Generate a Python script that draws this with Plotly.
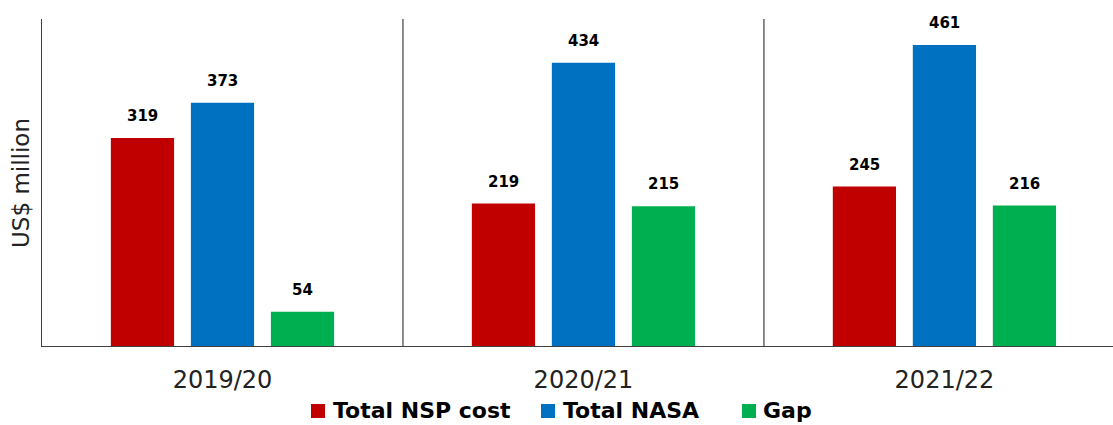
import plotly.graph_objects as go

years = ["2019/20", "2020/21", "2021/22"]
nsp_cost = [319, 219, 245]
nasa_total = [373, 434, 461]
gap = [54, 215, 216]

series_names = ["Total NSP cost", "Total NASA", "Gap"]
series_values = [nsp_cost, nasa_total, gap]
series_colors = ["#C00000", "#0070C0", "#00B050"]

FONT = "Century Gothic, URW Gothic, DejaVu Sans, sans-serif"
AXIS_COLOR = "#404040"

W, H = 1113, 425
M_L, M_R, M_T, M_B = 42, 0, 19, 78
PLOT_W = W - M_L - M_R
PLOT_H = H - M_T - M_B


def px_to_paper_x(px):
    return (px - M_L) / PLOT_W


def px_to_paper_y(py):
    return (H - M_B - py) / PLOT_H


fig = go.Figure()
bar_step = 80  # pixel distance between neighbouring bars in a group
for i, (name, values, color) in enumerate(zip(series_names, series_values, series_colors)):
    fig.add_trace(go.Bar(
        name=name, x=years, y=values,
        marker=dict(color=color, line=dict(width=0)),
        showlegend=False,
    ))
    # value labels above each bar
    for yr, v in zip(years, values):
        fig.add_annotation(
            x=yr, y=v, xref="x", yref="y", text=str(v), showarrow=False,
            xshift=(i - 1) * bar_step, yshift=11, yanchor="bottom",
            font=dict(family=FONT, size=15, color="#000000", weight="bold"),
        )

# vertical separators between year groups
for xpos in [0.5, 1.5]:
    fig.add_shape(type="line", xref="x", yref="paper", x0=xpos, x1=xpos,
                  y0=0, y1=1, line=dict(color=AXIS_COLOR, width=1.2))

# baseline along the category axis
fig.add_shape(type="line", xref="paper", yref="y", x0=0, x1=1, y0=0, y1=0,
              line=dict(color=AXIS_COLOR, width=2))

# legend row below the axis: colour swatch followed by bold label
legend_swatch_left = [311, 541, 742]
legend_text_left = [331, 561, 761]
legend_center_y = 410
for name, color, sx, tx in zip(series_names, series_colors, legend_swatch_left, legend_text_left):
    fig.add_shape(type="rect", xref="paper", yref="paper",
                  x0=px_to_paper_x(sx), x1=px_to_paper_x(sx + 14),
                  y0=px_to_paper_y(legend_center_y + 8), y1=px_to_paper_y(legend_center_y - 6),
                  fillcolor=color, line=dict(width=0))
    fig.add_annotation(x=px_to_paper_x(tx), y=px_to_paper_y(legend_center_y),
                       xref="paper", yref="paper", text=name, showarrow=False,
                       xanchor="left", yanchor="middle",
                       font=dict(family=FONT, size=22, color="#000000", weight="bold"))

fig.update_layout(
    width=W, height=H,
    margin=dict(l=M_L, r=M_R, t=M_T, b=M_B),
    paper_bgcolor="white", plot_bgcolor="white",
    barmode="group", bargap=0.335, bargroupgap=0.21,
    font=dict(family=FONT, color="#222222"),
    showlegend=False,
    xaxis=dict(range=[-0.5, 2.467], showgrid=False, zeroline=False,
               showline=False, ticks="", ticklabelstandoff=16,
               tickfont=dict(family=FONT, size=24, color="#222222")),
    yaxis=dict(range=[0, 500.8], showgrid=False, zeroline=False,
               showline=True, linecolor=AXIS_COLOR, linewidth=1.2,
               showticklabels=False, ticks="",
               title=dict(text="US$ million", standoff=4,
                          font=dict(family=FONT, size=23, color="#222222"))),
)

fig.write_html("out.html")
